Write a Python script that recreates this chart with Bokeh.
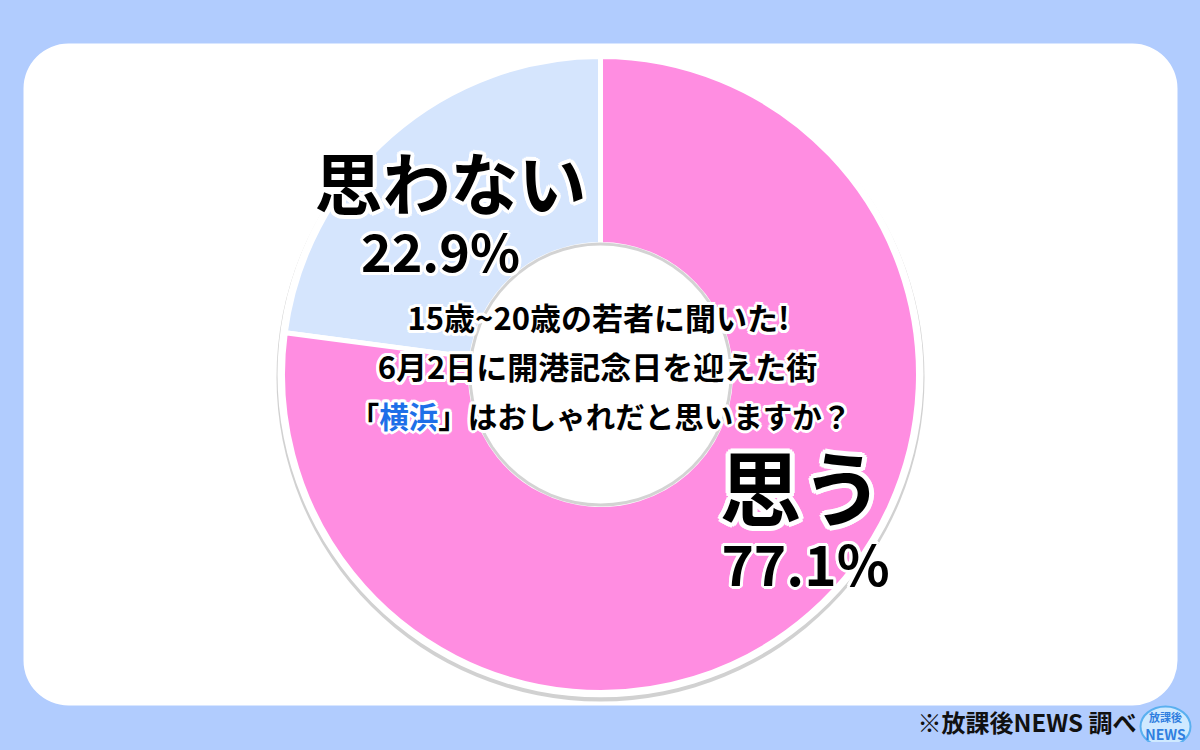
import math
from bokeh.plotting import figure
from bokeh.models import ColumnDataSource, Range1d, BoxAnnotation
from bokeh.core.properties import value
from bokeh.embed import file_html
from bokeh.resources import INLINE

# ---- data ----
categories = ["思う", "思わない"]
values = [77.1, 22.9]
value_labels = ["77.1%", "22.9%"]
colors = ["#FF8DE1", "#D5E5FD"]
question_lines = ["15歳~20歳の若者に聞いた!", "6月2日に開港記念日を迎えた街"]
question_last = ["「", "横浜", "」はおしゃれだと思いますか？"]
source_note = "※放課後NEWS 調べ"

W, H = 1184, 734
FONT = value("Noto Sans CJK JP")

p = figure(width=W, height=H, output_backend="svg", toolbar_location=None,
           x_range=Range1d(8, 8 + W), y_range=Range1d(750 - 8 - H, 750 - 8),
           min_border=0)
p.axis.visible = False
p.grid.visible = False
p.outline_line_color = None
p.background_fill_color = "#B1CCFE"
p.border_fill_color = "#B1CCFE"

def Y(y_img):
    return 750 - y_img

# white panel
p.add_layout(BoxAnnotation(left=23, right=1177, top=Y(43), bottom=Y(705),
                           fill_color="white", fill_alpha=1.0, line_color=None,
                           border_radius=45, level="underlay"))

cx, cy = 600, Y(374)
R_out, R_in = 318, 130

# shadow + white rim
p.circle(x=[cx], y=[cy - 3], radius=R_out + 6, fill_color="#9a9a9a", fill_alpha=0.45, line_color=None)
p.circle(x=[cx], y=[cy], radius=R_out + 5, fill_color="white", line_color=None)

# wedges: 思わない starts at 12 o'clock going anticlockwise, 思う fills the rest
total = sum(values)
start = math.pi / 2
order = [1, 0]
starts, ends, cols = [], [], []
a = start
for i in order:
    span = values[i] / total * 2 * math.pi
    starts.append(a)
    ends.append(a + span)
    cols.append(colors[i])
    a += span
src = ColumnDataSource(dict(x=[cx] * 2, y=[cy] * 2, s=starts, e=ends, c=cols))
p.annular_wedge(x="x", y="y", inner_radius=R_in, outer_radius=R_out,
                start_angle="s", end_angle="e", fill_color="c",
                line_color="white", line_width=5, source=src)

# hole with faint shadow edge
p.circle(x=[cx], y=[cy], radius=R_in + 2, fill_color="#b5b5b5", fill_alpha=0.6, line_color=None)
p.circle(x=[cx], y=[cy], radius=R_in - 1, fill_color="white", line_color=None)


def outlined(x, y, txt, size, color="black", w=3, align="center", n=12):
    s = ColumnDataSource(dict(x=[x], y=[y], t=[txt]))
    for k in range(n):
        ang = 2 * math.pi * k / n
        p.text(x="x", y="y", text="t", source=s, x_offset=w * math.cos(ang),
               y_offset=w * math.sin(ang), text_color="white", text_font=FONT,
               text_font_style="bold", text_font_size=f"{size}px",
               text_align=align, text_baseline="middle")
    p.text(x="x", y="y", text="t", source=s, text_color=color, text_font=FONT,
           text_font_style="bold", text_font_size=f"{size}px",
           text_align=align, text_baseline="middle")


# category labels
outlined(450, Y(180), categories[1], 68, w=4)
outlined(440, Y(249), value_labels[1], 52, w=3)
outlined(801, Y(484), categories[0], 82, w=5)
outlined(805, Y(561), value_labels[0], 55, w=3)

# question in the centre
qs = 31
outlined(598, Y(316), question_lines[0], qs, w=3)
outlined(597, Y(365), question_lines[1], qs, w=3)
qs3 = 29.5
x0 = 600 - 17 * qs3 / 2
outlined(x0, Y(414), question_last[0], qs3, w=3, align="left")
outlined(x0 + qs3, Y(414), question_last[1], qs3, color="#1E6FE8", w=3, align="left")
outlined(x0 + 3 * qs3, Y(414), question_last[2], qs3, w=3, align="left")

# footer
p.text(x=[1136], y=[Y(721)], text=[source_note], text_color="#111111", text_font=FONT,
       text_font_style="bold", text_font_size="24px", text_align="right",
       text_baseline="middle")
# small logo
p.ellipse(x=[1165], y=[Y(726)], width=50, height=40, fill_color="#CFE9FF",
          line_color="#5AB0F0", line_width=2)
p.text(x=[1165], y=[Y(716)], text=["放課後"], text_color="#2F7FE0", text_font=FONT,
       text_font_style="bold", text_font_size="11px", text_align="center", text_baseline="middle")
p.text(x=[1165], y=[Y(733)], text=["NEWS"], text_color="#2F7FE0", text_font=FONT,
       text_font_style="bold", text_font_size="14px", text_align="center", text_baseline="middle")

html = file_html(p, INLINE)
html = html.replace("</head>", "<style>html{background:#B1CCFE;margin:0;}body{background:#B1CCFE;margin:8px !important;}</style></head>", 1)
open("out.html", "w").write(html)
